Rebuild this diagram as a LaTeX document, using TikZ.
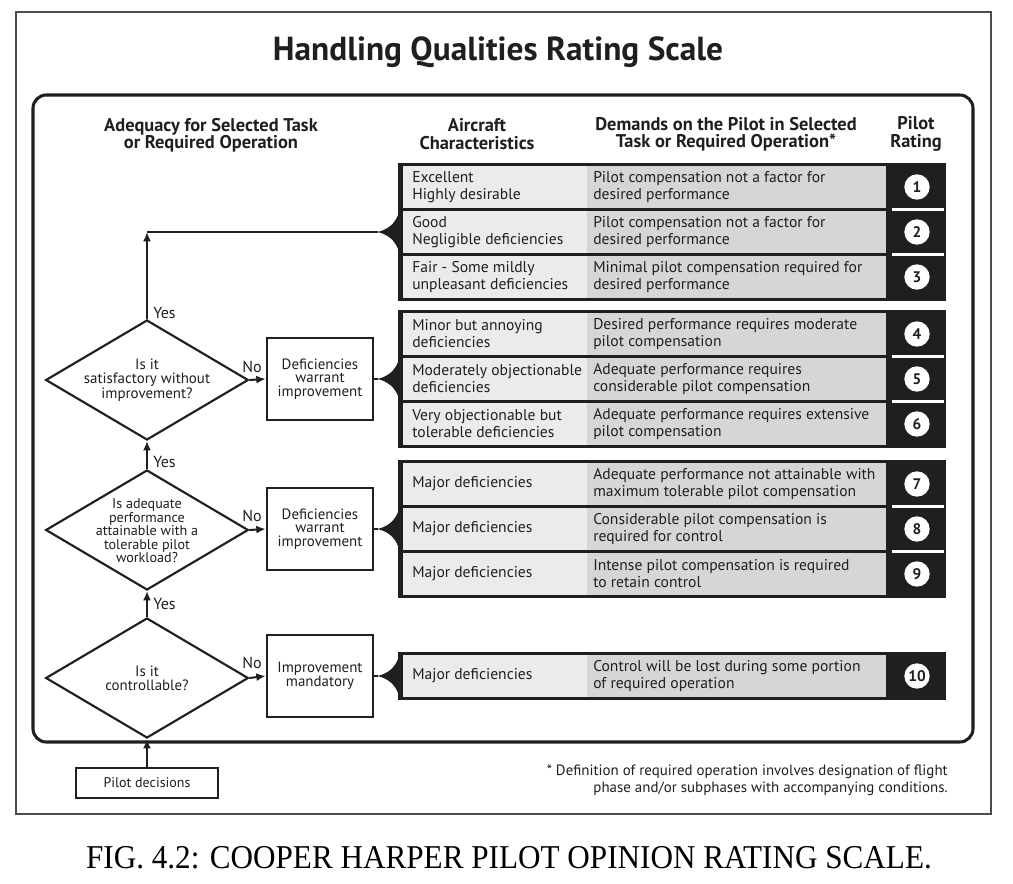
\documentclass[tikz,border=0pt]{standalone}
\usepackage{fontspec}
\setmainfont{PT Sans}
\newfontfamily\capfont{Liberation Serif}
\usetikzlibrary{shapes.geometric,arrows.meta}
\definecolor{cellA}{gray}{0.92}
\definecolor{cellB}{gray}{0.84}
\definecolor{ink}{gray}{0.12}
\tikzset{
  ln/.style={line width=1.5pt,draw=ink},
  arr/.style={line width=1.5pt,draw=ink,-{Latex[length=7pt,width=6pt]}},
  dia/.style={draw=ink,line width=1.6pt,diamond,inner sep=0pt,minimum width=152pt,minimum height=90pt},
  dbox/.style={draw=ink,line width=1.5pt,minimum width=80pt,minimum height=62pt,inner sep=0pt},
  body/.style={font=\fontsize{11.7}{12.8}\selectfont,align=left,anchor=west,inner sep=0pt,text=ink},
  ctext/.style={font=\fontsize{11.2}{10.2}\selectfont,align=center,inner sep=0pt,text=ink},
  dtext/.style={font=\fontsize{10.6}{10.1}\selectfont,align=center,inner sep=0pt,text=ink},
  head/.style={font=\bfseries\fontsize{13.8}{13}\selectfont,align=center,inner sep=0pt,text=ink},
  rate/.style={circle,fill=white,minimum size=19pt,inner sep=0pt,text=ink,font=\bfseries\fontsize{11.5}{12}\selectfont},
  lab/.style={font=\fontsize{12}{12}\selectfont,inner sep=0pt,text=ink}
}
\newcommand\hqrow[5]{%
  \fill[cellA] (403,#1) rectangle (587,#1+42);
  \fill[cellB] (587,#1) rectangle (886,#1+42);
  \node[body] (#5a) at (412,#1+21) {#2};
  \node[body] (#5b) at (593,#1+21) {#3};
  \node[rate] (#5) at (917,#1+21) {#4};
}
\newcommand\hqframe[2]{% top, rows
  \fill[ink] (398,#1) rectangle (946,#1+3+45*#2);
}
\newcommand\hqsep[1]{%
  \draw[white,line width=2.2pt] (892,#1-1.5) -- (944,#1-1.5);
}
\newcommand\hqwedge[1]{%
  \fill[ink] (377,#1) .. controls (388,#1-2) and (395,#1-9) .. (398,#1-17) -- (398,#1+17) .. controls (395,#1+9) and (388,#1+2) .. (377,#1) -- cycle;
}
\begin{document}
\begin{tikzpicture}[x=0.75pt,y=-0.75pt]
\useasboundingbox (0,0) rectangle (1013,884);
\fill[white] (0,0) rectangle (1013,884);
% frames
\draw[line width=1.1pt,draw=gray!60!black] (16,12) rectangle (991,814);
\draw[line width=2.3pt,draw=ink,rounded corners=10pt] (33,95) rectangle (973,742);
% title
\node[font=\bfseries\fontsize{25}{28}\selectfont,text=ink] (title) at (498,52) {Handling Qualities Rating Scale};
% headers
\node[head] (h1) at (211,135) {Adequacy for Selected Task\\or Required Operation};
\node[head] (h2) at (477,134) {Aircraft\\Characteristics};
\node[head] (h3) at (726,134) {Demands on the Pilot in Selected\\Task or Required Operation*};
\node[head] (h4) at (916,134) {Pilot\\Rating};
% group 1
\hqframe{163}{3}
\hqrow{166}{Excellent\\Highly desirable}{Pilot compensation not a factor for\\desired performance}{1}{r1}
\hqrow{211}{Good\\Negligible deficiencies}{Pilot compensation not a factor for\\desired performance}{2}{r2}
\hqrow{256}{Fair - Some mildly\\unpleasant deficiencies}{Minimal pilot compensation required for\\desired performance}{3}{r3}
\hqsep{211}\hqsep{256}
% group 2
\hqframe{310}{3}
\hqrow{313}{Minor but annoying\\deficiencies}{Desired performance requires moderate\\pilot compensation}{4}{r4}
\hqrow{358}{Moderately objectionable\\deficiencies}{Adequate performance requires\\considerable pilot compensation}{5}{r5}
\hqrow{403}{Very objectionable but\\tolerable deficiencies}{Adequate performance requires extensive\\pilot compensation}{6}{r6}
\hqsep{358}\hqsep{403}
% group 3
\hqframe{460}{3}
\hqrow{463}{Major deficiencies}{Adequate performance not attainable with\\maximum tolerable pilot compensation}{7}{r7}
\hqrow{508}{Major deficiencies}{Considerable pilot compensation is\\required for control}{8}{r8}
\hqrow{553}{Major deficiencies}{Intense pilot compensation is required\\to retain control}{9}{r9}
\hqsep{508}\hqsep{553}
% group 4
\hqframe{652}{1}
\hqrow{655}{Major deficiencies}{Control will be lost during some portion\\of required operation}{10}{r10}
% wedges
\hqwedge{232}\hqwedge{379}\hqwedge{529}\hqwedge{676}
\coordinate (w1) at (378,232);
\coordinate (w2) at (378,379);
\coordinate (w3) at (378,529);
\coordinate (w4) at (378,676);
\coordinate (yes1) at (147,232);
% diamonds
\node[dia] (d1) at (147,380) {};
\node[ctext] (d1t) at (d1) {Is it\\satisfactory without\\improvement?};
\node[dia] (d2) at (147,530) {};
\node[dtext] (d2t) at (147,531) {Is adequate\\performance\\attainable with a\\tolerable pilot\\workload?};
\node[dia] (d3) at (147,678) {};
\node[ctext] (d3t) at (d3) {Is it\\controllable?};
% boxes
\node[dbox] (b1) at (320,379) {};
\node[ctext] (b1t) at (b1) {Deficiencies\\warrant\\improvement};
\node[dbox] (b2) at (320,529) {};
\node[ctext] (b2t) at (b2) {Deficiencies\\warrant\\improvement};
\node[dbox] (b3) at (320,676) {};
\node[ctext] (b3t) at (b3) {Improvement\\mandatory};
\node[draw=ink,line width=1.5pt,minimum width=106.5pt,minimum height=22.5pt,inner sep=0pt,font=\fontsize{10.5}{11}\selectfont,text=ink] (pd) at (147,783) {Pilot decisions};
% connectors
\draw[arr] (pd.north) -- (d3.south);
\draw[arr] (d3.north) -- (d2.south);
\draw[arr] (d2.north) -- (d1.south);
\draw[arr] (d1.north) -- (yes1);
\draw[ln] (yes1) -- (w1);
\draw[arr] (d1.east) -- (b1.west);
\draw[arr] (d2.east) -- (b2.west);
\draw[arr] (d3.east) -- (b3.west);
\draw[ln] (b1.east) -- (w2);
\draw[ln] (b2.east) -- (w3);
\draw[ln] (b3.east) -- (w4);
% labels
\node[lab,anchor=west] (y1) at (153,313) {Yes};
\node[lab,anchor=west] (y2) at (153,462) {Yes};
\node[lab,anchor=west] (y3) at (153,604) {Yes};
\node[lab] (n1) at (252,367) {No};
\node[lab] (n2) at (252,516) {No};
\node[lab] (n3) at (252,663) {No};
% footnote
\node[font=\fontsize{11.2}{12.6}\selectfont,align=right,anchor=east,inner sep=0pt,text=ink] (fn) at (948,780) {* Definition of required operation involves designation of flight\\phase and/or subphases with accompanying conditions.};
% caption
\node[inner sep=0pt] (cap) at (509,858) {\capfont\fontsize{25}{30}\selectfont\scalebox{0.935}[1]{FIG. 4.2: COOPER HARPER PILOT OPINION RATING SCALE.}};
\end{tikzpicture}
\end{document}
